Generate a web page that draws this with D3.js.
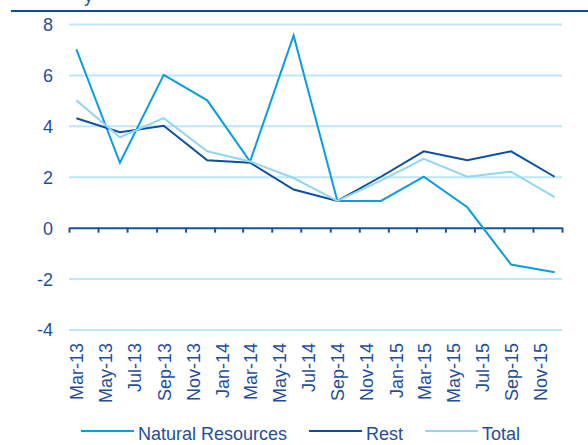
<!DOCTYPE html>
<html lang="en">
  <head>
    <meta charset="UTF-8" />
    <title>Natural Resources vs Rest</title>
    <script src="https://d3js.org/d3.v7.min.js"></script>
    <style>
      body {
        margin: 0;
        background: #fff;
      }
      svg text {
        font-family: "Liberation Sans", Arial, sans-serif;
        fill: #1f4e9d;
      }
    </style>
  </head>
  <body>
    <svg width="588" height="445"></svg>
    <script>
      // quarterly observations
      const quarters = ["Mar-13", "Jun-13", "Sep-13", "Dec-13", "Mar-14", "Jun-14",
        "Sep-14", "Dec-14", "Mar-15", "Jun-15", "Sep-15", "Dec-15"];
      const naturalResources = [7.0, 2.55, 6.0, 5.0, 2.6, 7.55, 1.05, 1.05, 2.0, 0.8, -1.45, -1.75];
      const rest = [4.3, 3.75, 4.0, 2.65, 2.55, 1.5, 1.05, 2.0, 3.0, 2.65, 3.0, 2.0];
      const total = [5.0, 3.55, 4.3, 3.0, 2.6, 1.95, 1.05, 1.85, 2.7, 2.0, 2.2, 1.2];

      // axis labels
      const xLabels = ["Mar-13", "May-13", "Jul-13", "Sep-13", "Nov-13", "Jan-14", "Mar-14",
        "May-14", "Jul-14", "Sep-14", "Nov-14", "Jan-15", "Mar-15", "May-15", "Jul-15",
        "Sep-15", "Nov-15"];
      const yTicks = [8, 6, 4, 2, 0, -2, -4];

      const seriesNames = ["Natural Resources", "Rest", "Total"];
      const seriesColors = ["#0a9de0", "#0c4ea2", "#93d5f2"];

      const parse = d3.utcParse("%b-%y");
      const monthMid = (s) => {
        const d = parse(s);
        return new Date((+d + +d3.utcMonth.offset(d, 1)) / 2);
      };

      const svg = d3.select("svg");
      const plot = { left: 69, right: 562, top: 24, bottom: 329.5 };

      const x = d3
        .scaleUtc()
        .domain([parse("Mar-13"), d3.utcMonth.offset(parse("Nov-15"), 2)])
        .range([plot.left, plot.right]);

      const y = d3.scaleLinear().domain([-4, 8]).range([plot.bottom, plot.top]);

      // cut-off title and top rule
      svg.append("text").attr("x", 84).attr("y", 1.5).style("font-size", "18px").text("y");
      svg
        .append("line")
        .attr("x1", 11)
        .attr("x2", 588)
        .attr("y1", 11)
        .attr("y2", 11)
        .attr("stroke", "#0c4ea2")
        .attr("stroke-width", 2);

      // gridlines
      svg
        .append("g")
        .attr("transform", `translate(${plot.left},0)`)
        .call(
          d3.axisLeft(y)
            .tickValues(yTicks.filter((v) => v !== 0))
            .tickSize(-(plot.right - plot.left))
            .tickFormat("")
        )
        .call((g) => g.select(".domain").remove())
        .selectAll("line")
        .attr("stroke", "#bde7f8")
        .attr("stroke-width", 2);

      // y labels (plain hyphen for negatives)
      svg
        .append("g")
        .attr("transform", `translate(53,0)`)
        .call(d3.axisLeft(y).tickValues(yTicks).tickSize(0).tickPadding(0).tickFormat((d) => String(d)))
        .call((g) => g.select(".domain").remove())
        .selectAll("text")
        .style("font-size", "18px")
        .attr("dy", "0.36em");

      // zero axis with ticks every two months
      const tickDates = d3.utcMonth.every(2).range(x.domain()[0], d3.utcMonth.offset(x.domain()[1], 1));
      const xAxis = svg
        .append("g")
        .attr("transform", `translate(0,${y(0)})`)
        .call(d3.axisBottom(x).tickValues(tickDates).tickSize(5).tickSizeOuter(0).tickFormat(""));
      xAxis.select(".domain").attr("stroke", "#1a50a3").attr("stroke-width", 2);
      xAxis.selectAll(".tick line").attr("stroke", "#1a50a3").attr("stroke-width", 2);

      // rotated month labels
      const labelAxis = svg
        .append("g")
        .attr("transform", `translate(0,343)`)
        .call(
          d3.axisBottom(x)
            .tickValues(xLabels.map(monthMid))
            .tickSize(0)
            .tickFormat((d, i) => xLabels[i])
        );
      labelAxis.select(".domain").remove();
      labelAxis
        .selectAll("text")
        .style("font-size", "18px")
        .style("text-anchor", "end")
        .attr("transform", "rotate(-90)")
        .attr("x", 0)
        .attr("y", 0)
        .attr("dy", "0.36em");

      // lines
      const line = d3
        .line()
        .x((d, i) => x(monthMid(quarters[i])))
        .y((d) => y(d));

      [naturalResources, rest, total].forEach((values, k) => {
        svg
          .append("path")
          .datum(values)
          .attr("fill", "none")
          .attr("stroke", seriesColors[k])
          .attr("stroke-width", 2)
          .attr("d", line);
      });

      // legend
      const legend = svg.append("g").attr("transform", "translate(81,431)");
      let lx = 0;
      seriesNames.forEach((name, k) => {
        legend
          .append("line")
          .attr("x1", lx)
          .attr("x2", lx + 53)
          .attr("stroke", seriesColors[k])
          .attr("stroke-width", 2);
        const t = legend
          .append("text")
          .attr("x", lx + 57)
          .attr("y", 9)
          .style("font-size", "18px")
          .text(name);
        lx += 57 + t.node().getComputedTextLength() + 22;
      });
    </script>
  </body>
</html>
